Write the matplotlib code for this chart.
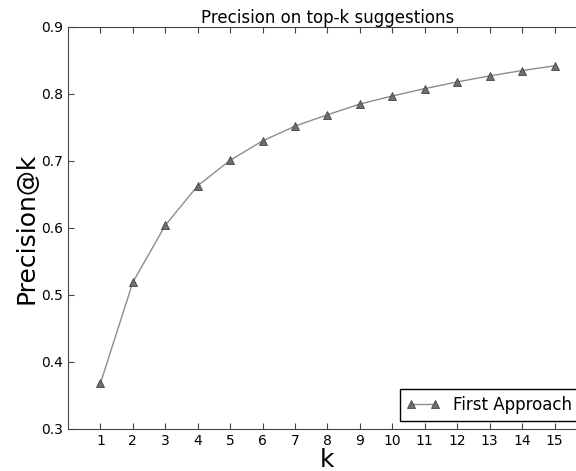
import matplotlib
matplotlib.use("Agg")
import matplotlib.pyplot as plt

# precision@k values
k = [1, 2, 3, 4, 5, 6, 7, 8, 9, 10, 11, 12, 13, 14, 15]
precision = [0.368, 0.519, 0.604, 0.663, 0.701, 0.730, 0.752, 0.769,
             0.785, 0.797, 0.808, 0.818, 0.827, 0.835, 0.842]
series_name = "First Approach"

fig = plt.figure(figsize=(5.76, 4.71), dpi=100)
# axes runs past the right edge, like the cropped original
ax = fig.add_axes([0.118, 0.0892, 0.901, 0.8535])

ax.plot(k, precision, color="#8c8c8c", linewidth=1,
        marker="^", markersize=6, markerfacecolor="#6e6e6e",
        markeredgecolor="#444444", markeredgewidth=0.6, label=series_name)

ax.set_xlim(0, 16)
ax.set_ylim(0.3, 0.9)
ax.set_xticks(k)
ax.set_yticks([0.3, 0.4, 0.5, 0.6, 0.7, 0.8, 0.9])
ax.tick_params(direction="in", top=True, right=True, length=4,
               labelsize=10, color="#444444")
for s in ax.spines.values():
    s.set_color("#444444")

ax.set_title("Precision on top-k suggestions", fontsize=12, pad=3)
ax.set_xlabel("k", fontsize=18, labelpad=0)
ax.set_ylabel("Precision@k", fontsize=18, labelpad=2)

leg = ax.legend(loc="lower right", numpoints=2, fontsize=12,
                fancybox=False, framealpha=1, borderaxespad=0.5)
leg.get_frame().set_edgecolor("black")

fig.savefig("out.png", dpi=100)
